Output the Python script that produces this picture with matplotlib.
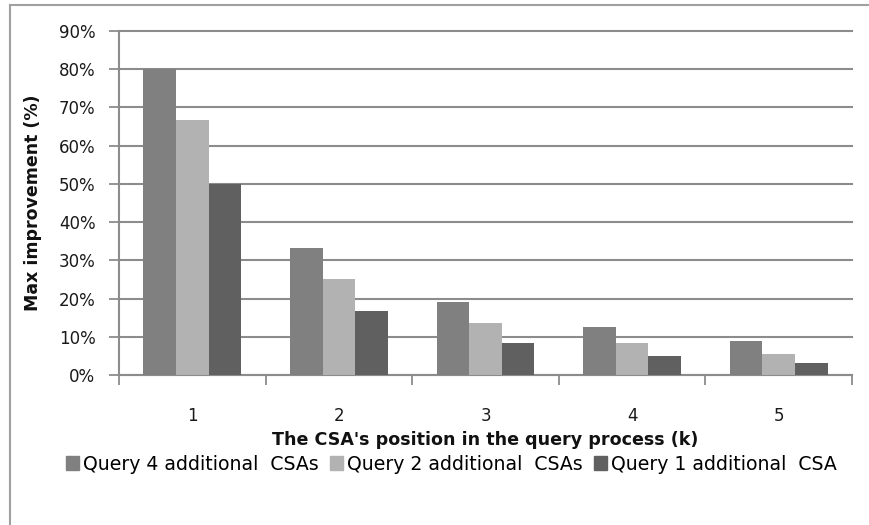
import matplotlib
matplotlib.use("Agg")
import matplotlib.pyplot as plt
import numpy as np
from matplotlib.patches import Rectangle
from matplotlib.lines import Line2D

categories = ["1", "2", "3", "4", "5"]
series_names = ["Query 4 additional  CSAs", "Query 2 additional  CSAs", "Query 1 additional  CSA"]
q4_values = [80.0, 33.3, 19.2, 12.5, 8.8]
q2_values = [66.7, 25.0, 13.6, 8.3, 5.5]
q1_values = [50.0, 16.7, 8.3, 5.0, 3.2]
y_ticks = [0, 10, 20, 30, 40, 50, 60, 70, 80, 90]
y_tick_labels = ["0%", "10%", "20%", "30%", "40%", "50%", "60%", "70%", "80%", "90%"]

colors = ["#808080", "#b2b2b2", "#606060"]
grid_color = "#8c8c8c"

fig = plt.figure(figsize=(8.7, 5.25), dpi=100)
W, H = 870, 525
ax = fig.add_axes([119 / W, 1 - 375 / H, (852 - 119) / W, (375 - 31) / H])

x = np.arange(len(categories))
bw = 0.222
for i, (vals, c) in enumerate(zip([q4_values, q2_values, q1_values], colors)):
    ax.bar(x + (i - 1) * bw, vals, width=bw, color=c, edgecolor="none", zorder=3)

ax.set_xlim(-0.5, len(categories) - 0.5)
ax.set_ylim(0, 90)
ax.set_yticks(y_ticks)
ax.set_yticklabels(y_tick_labels)
ax.yaxis.grid(True, color=grid_color, linewidth=1.5, zorder=0)
for gl in ax.get_ygridlines():
    gl.set_clip_on(False)
ax.set_axisbelow(True)

ax.set_xticks(x)
ax.set_xticklabels(categories)
ax.set_xticks(np.arange(-0.5, len(categories)), minor=True)
ax.tick_params(axis="x", which="major", length=0, pad=23, labelsize=12, colors="#1a1a1a")
ax.tick_params(axis="x", which="minor", length=7, width=1.3, color=grid_color, direction="out")
ax.tick_params(axis="y", length=7, width=1.3, color=grid_color, direction="out", pad=10,
               labelsize=12, labelcolor="#1a1a1a")

for s in ["top", "right"]:
    ax.spines[s].set_visible(False)
for s in ["left", "bottom"]:
    ax.spines[s].set_color(grid_color)
    ax.spines[s].set_linewidth(1.5)

ax.set_ylabel("Max improvement (%)", fontsize=12.5, fontweight="bold", labelpad=12, color="#111111")
fig.text(485 / W, 1 - 440 / H, "The CSA's position in the query process (k)", ha="center", va="center",
         fontsize=12.6, fontweight="bold", color="#111111")

handles = [Rectangle((0, 0), 1, 1, color=c) for c in colors]
fig.legend(handles, series_names, loc="center", bbox_to_anchor=(451 / W, 1 - 464 / H), ncol=3,
           frameon=False, handlelength=0.7, handleheight=0.7, handletextpad=0.2,
           columnspacing=0.6, prop={"size": 13.6})

# outer chart frame (top and left edges)
fig.add_artist(Line2D([10 / W, 10 / W], [1 - 5 / H, 0], transform=fig.transFigure, color="#a0a0a0", lw=1.5))
fig.add_artist(Line2D([10 / W, 1], [1 - 5 / H, 1 - 5 / H], transform=fig.transFigure, color="#a0a0a0", lw=1.5))

fig.savefig("out.png", dpi=100)
